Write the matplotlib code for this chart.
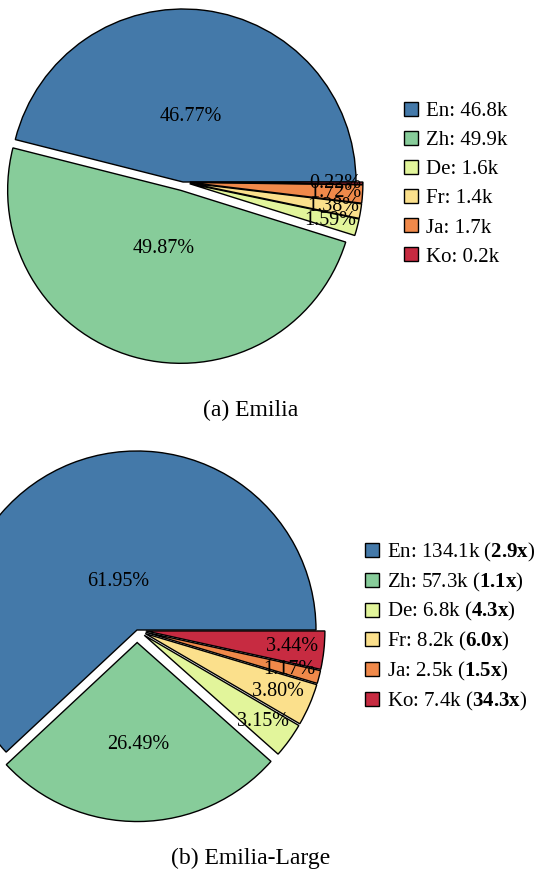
import matplotlib
matplotlib.use("Agg")
import matplotlib.pyplot as plt
import numpy as np
from matplotlib.patches import Patch

plt.rcParams["font.family"] = ["Liberation Serif", "DejaVu Serif"]
plt.rcParams["mathtext.fontset"] = "custom"
plt.rcParams["mathtext.rm"] = "Liberation Serif"
plt.rcParams["mathtext.bf"] = "Liberation Serif:bold"

# ---------------------------------------------------------------------------
# Donnees
# ---------------------------------------------------------------------------
languages = ["En", "Zh", "De", "Fr", "Ja", "Ko"]
emilia_pct = [46.77, 49.87, 1.59, 1.38, 1.72, 0.22]
emilia_hours = ["46.8k", "49.9k", "1.6k", "1.4k", "1.7k", "0.2k"]
large_pct = [61.95, 26.49, 3.15, 3.80, 1.17, 3.44]
large_hours = ["134.1k", "57.3k", "6.8k", "8.2k", "2.5k", "7.4k"]
large_ratio = ["2.9x", "1.1x", "4.3x", "6.0x", "1.5x", "34.3x"]
captions = ["(a) Emilia", "(b) Emilia-Large"]

colors = ["#4479a9", "#87cc9a", "#e2f59b", "#fbe08c", "#f0894a", "#c72b41"]

W, H = 541, 869


def pie_axes(fig, cx, cy, r, lim=1.25):
    """Axes carre dont le centre de donnees (0,0) tombe au pixel (cx, cy)."""
    side = 2 * lim * r
    return fig.add_axes([(cx - lim * r) / W, (H - cy - lim * r) / H, side / W, side / H])


def draw_pie(ax, sizes, explode, label_dist, lim=1.25):
    wedges, _ = ax.pie(sizes, colors=colors, explode=explode, startangle=0,
                       counterclock=True,
                       wedgeprops=dict(edgecolor="black", linewidth=1.0))
    for w, pct, d in zip(wedges, sizes, label_dist):
        theta = np.deg2rad((w.theta1 + w.theta2) / 2)
        cx, cy = w.center
        ax.text(cx + d * w.r * np.cos(theta), cy + d * w.r * np.sin(theta),
                f"{pct:.2f}%", ha="center", va="center", fontsize=14.5)
    ax.set_xlim(-lim, lim)
    ax.set_ylim(-lim, lim)
    ax.set_axis_off()


def add_legend(fig, labels, x, y, spacing):
    handles = [Patch(facecolor=c, edgecolor="black", linewidth=1.0) for c in colors]
    fig.legend(handles, labels, loc="upper left",
               bbox_to_anchor=(x / W, 1 - y / H), frameon=False, fontsize=15,
               handlelength=0.65, handleheight=0.65, handletextpad=0.4,
               labelspacing=spacing, borderpad=0, borderaxespad=0)


fig = plt.figure(figsize=(W / 100, H / 100), dpi=100)

# (a) Emilia
ax1 = pie_axes(fig, 183, 182, 173)
draw_pie(ax1, emilia_pct, [0, 0.05, 0.04, 0.04, 0.04, 0.04],
         [0.38, 0.35, 0.84, 0.84, 0.84, 0.84])
add_legend(fig, [f"{l}: {h}" for l, h in zip(languages, emilia_hours)], 404, 102, 0.47)
fig.text(251 / W, 1 - 410 / H, captions[0], ha="center", va="center", fontsize=17)

# (b) Emilia-Large
ax2 = pie_axes(fig, 137, 630, 179)
draw_pie(ax2, large_pct, [0, 0.07, 0.05, 0.05, 0.05, 0.05],
         [0.29, 0.57, 0.82, 0.81, 0.83, 0.82])
add_legend(fig, [f"{l}: {h} ($\\mathbf{{{r}}}$)"
                 for l, h, r in zip(languages, large_hours, large_ratio)], 365, 541, 0.32)
fig.text(251 / W, 1 - 858 / H, captions[1], ha="center", va="center", fontsize=17)

fig.savefig("out.png", dpi=100)
